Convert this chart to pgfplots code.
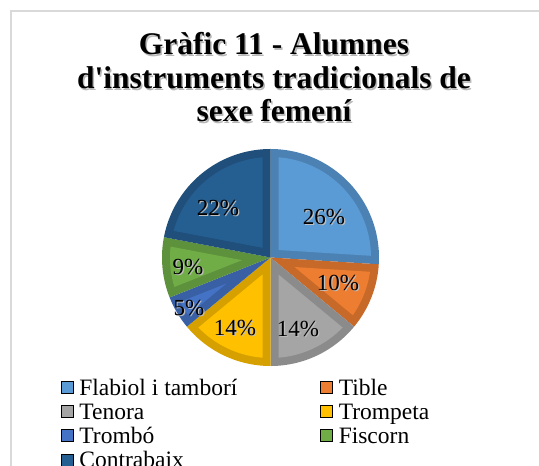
\documentclass[border=0pt]{standalone}
\usepackage{pgfplots}
\pgfplotsset{compat=1.18}
\usepackage{fontspec}
\setmainfont{Liberation Serif}
\definecolor{c1}{HTML}{5B9BD5}
\definecolor{c2}{HTML}{ED7D31}
\definecolor{c3}{HTML}{A5A5A5}
\definecolor{c4}{HTML}{FFC000}
\definecolor{c5}{HTML}{4472C4}
\definecolor{c6}{HTML}{70AD47}
\definecolor{c7}{HTML}{255E91}
\def\cx{270.5}\def\cy{208.5}\def\R{108.5}\def\bw{8}
% #1 start (cumulative %), #2 end (cumulative %), #3 colour
\newcommand\slice[3]{%
  \addplot[forget plot, fill=#3!84!black, draw=none, domain={90-3.6*#2}:{90-3.6*#1}, samples=90]
    ({\cx+\R*cos(x)},{\cy+\R*sin(x)}) -- (axis cs:\cx,\cy) -- cycle;
  \addplot[forget plot, fill=#3, draw=none, domain={90-3.6*#2+asin(\bw/(\R-\bw))}:{90-3.6*#1-asin(\bw/(\R-\bw))}, samples=90]
    ({\cx+(\R-\bw)*cos(x)},{\cy+(\R-\bw)*sin(x)})
    -- (axis cs:{\cx+\bw/sin(1.8*(#2-#1))*cos(90-1.8*(#1+#2))},{\cy+\bw/sin(1.8*(#2-#1))*sin(90-1.8*(#1+#2))}) -- cycle;
}
\newcommand\pct[3]{%
  \node[text=black!25, font=\fontsize{23bp}{25bp}\selectfont] at (axis cs:{#1+1.2},{#2-1.2}) {#3};
  \node[text=black, font=\fontsize{23bp}{25bp}\selectfont] at (axis cs:#1,#2) {#3};
}
\newcommand\ttl[2]{%
  \node[anchor=base, text=black!28, font=\fontsize{31.5bp}{34bp}\selectfont\bfseries] at (axis cs:275.5,{#1-1.5}) {#2};
  \node[anchor=base, text=black, font=\fontsize{31.5bp}{34bp}\selectfont\bfseries] at (axis cs:274,#1) {#2};
}
\pgfplotsset{sq/.style={legend image code/.code={\fill[##1] (0bp,2bp) rectangle (12bp,14bp);}}}
\begin{document}
\begin{tikzpicture}
\useasboundingbox (0,0) rectangle (539bp,466bp);
\clip (0,0) rectangle (539bp,466bp);
\begin{axis}[at={(0,0)}, anchor=south west,
  width=539bp, height=466bp, scale only axis,
  xmin=0, xmax=539, ymin=0, ymax=466, hide axis, clip=false,
  legend columns=2,
  legend cell align=left,
  legend style={at={(axis cs:61,88)}, anchor=north west, draw=none, fill=none,
    inner sep=0pt, outer sep=0pt, row sep=0pt,
    font=\fontsize{23.5bp}{24.3bp}\selectfont,
    nodes={inner sep=0pt, outer sep=0pt, text height=17bp, text depth=7.3bp, anchor=base west},
    /tikz/every odd column/.style={column sep=6bp},
    /tikz/every even column/.style={column sep=83bp}},
]
% frame
\draw[color=black!15, line width=1.5bp] (axis cs:11,-10) -- (axis cs:11,455) -- (axis cs:560,455);
% title
\ttl{411}{Gràfic 11 - Alumnes}
\ttl{377}{d\textquotesingle instruments tradicionals de}
\ttl{344}{sexe femení}
% slices: cumulative percentages 26, 10, 14, 14, 5, 9, 22
\slice{0}{26}{c1}
\slice{26}{36}{c2}
\slice{36}{50}{c3}
\slice{50}{64}{c4}
\slice{64}{69}{c5}
\slice{69}{78}{c6}
\slice{78}{100}{c7}
\pct{324}{249}{26\%}
\pct{338}{183}{10\%}
\pct{298}{137}{14\%}
\pct{235}{138}{14\%}
\pct{189}{158}{5\%}
\pct{188}{199}{9\%}
\pct{218}{258}{22\%}
\addlegendimage{sq, fill=c1}\addlegendentry{Flabiol i tamborí}
\addlegendimage{sq, fill=c2}\addlegendentry{Tible}
\addlegendimage{sq, fill=c3}\addlegendentry{Tenora}
\addlegendimage{sq, fill=c4}\addlegendentry{Trompeta}
\addlegendimage{sq, fill=c5}\addlegendentry{Trombó}
\addlegendimage{sq, fill=c6}\addlegendentry{Fiscorn}
\addlegendimage{sq, fill=c7}\addlegendentry{Contrabaix}
\end{axis}
\end{tikzpicture}
\end{document}
